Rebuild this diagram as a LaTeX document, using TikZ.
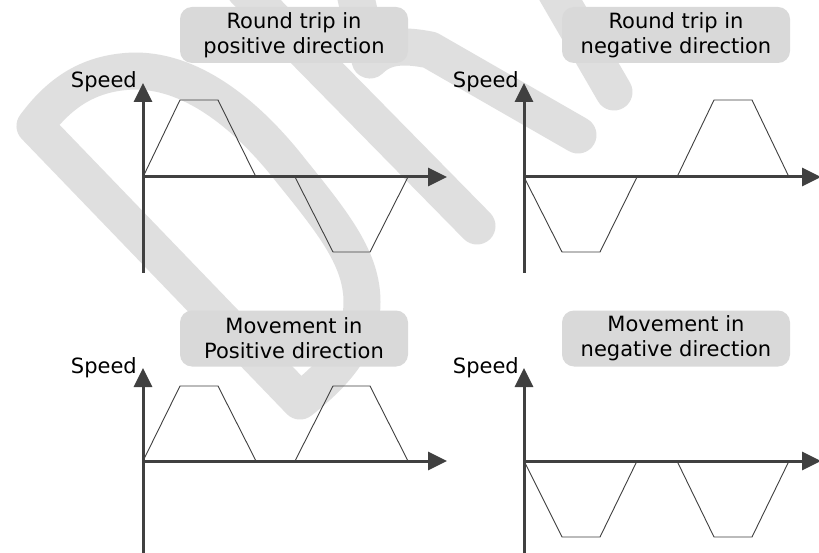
\documentclass[tikz,border=0pt]{standalone}
\usepackage{fontspec}
\setmainfont{DejaVu Sans}
\usetikzlibrary{arrows.meta}
\definecolor{wmgray}{HTML}{DFDFDF}
\definecolor{boxgray}{HTML}{D9D9D9}
\definecolor{axgray}{HTML}{404040}
\begin{document}
\begin{tikzpicture}[x=1pt,y=-1pt,
  wm/.style={draw=wmgray, line width=37pt, line cap=round, line join=round},
  axis/.style={draw=axgray, line width=3pt, -{Triangle[length=19pt,width=18pt]}},
  pulse/.style={draw=axgray, line width=0.9pt},
  labelbox/.style={fill=boxgray, rounded corners=12pt, minimum width=228pt, minimum height=56pt, inner sep=0pt,
    align=center, font=\fontsize{21}{25}\selectfont, text=black},
  speedlbl/.style={font=\fontsize{21}{25}\selectfont, anchor=base east, inner sep=0pt, text=black}]
\clip (0,0) rectangle (819,553);
\fill[white] (0,0) rectangle (819,553);
% watermark
\draw[wm] (300,401) -- (35,126) .. controls (60,92) and (90,72) .. (135,71)
  .. controls (195,71) and (250,118) .. (292,172)
  .. controls (335,225) and (362,260) .. (362,302)
  .. controls (362,342) and (337,372) .. (300,401) -- cycle;
\draw[wm] (245,-10) -- (477,226);
\draw[wm] (352,-20) -- (370,60) .. controls (385,45) and (405,45) .. (430,50) -- (578,135);
\draw[wm] (552,-15) -- (614,92);
% titles
\node[labelbox] (t1) at (294,35) {Round trip in\\positive direction};
\node[labelbox] (t2) at (676,35) {Round trip in\\negative direction};
\node[labelbox] (t3) at (294,338.5) {Movement in\\Positive direction};
\node[labelbox] (t4) at (676,338.5) {Movement in\\negative direction};
% speed labels
\node[speedlbl] (s1) at (137,88) {Speed};
\node[speedlbl] (s2) at (519,88) {Speed};
\node[speedlbl] (s3) at (137,373) {Speed};
\node[speedlbl] (s4) at (519,373) {Speed};
% axes coordinates
\coordinate (o1) at (143,177); \coordinate (v1) at (143,83);  \coordinate (b1) at (143,273); \coordinate (h1) at (447,177);
\coordinate (o2) at (524,177); \coordinate (v2) at (524,83);  \coordinate (b2) at (524,273); \coordinate (h2) at (821,177);
\coordinate (o3) at (143,461); \coordinate (v3) at (143,368); \coordinate (b3) at (143,556); \coordinate (h3) at (447,461);
\coordinate (o4) at (524,461); \coordinate (v4) at (524,368); \coordinate (b4) at (524,556); \coordinate (h4) at (821,461);
% pulses (drawn in each panel relative to its origin)
\begin{scope}[shift={(o1)}]
  \draw[pulse] (0,0) -- (37,-77) -- (75,-77) -- (113,0);
  \draw[pulse] (152,0) -- (190,75) -- (227,75) -- (265,0);
\end{scope}
\begin{scope}[shift={(o2)}]
  \draw[pulse] (0,0) -- (38,75) -- (76,75) -- (113,0);
  \draw[pulse] (153,0) -- (190,-77) -- (228,-77) -- (265,0);
\end{scope}
\begin{scope}[shift={(o3)}]
  \draw[pulse] (0,0) -- (37,-75) -- (75,-75) -- (113,0);
  \draw[pulse] (152,0) -- (190,-75) -- (227,-75) -- (265,0);
\end{scope}
\begin{scope}[shift={(o4)}]
  \draw[pulse] (0,0) -- (38,76) -- (76,76) -- (113,0);
  \draw[pulse] (153,0) -- (190,76) -- (228,76) -- (265,0);
\end{scope}
% axes
\foreach \i in {1,2,3,4} {
  \draw[axis] (b\i) -- (v\i);
  \draw[axis] (o\i) -- (h\i);
}
\end{tikzpicture}
\end{document}
